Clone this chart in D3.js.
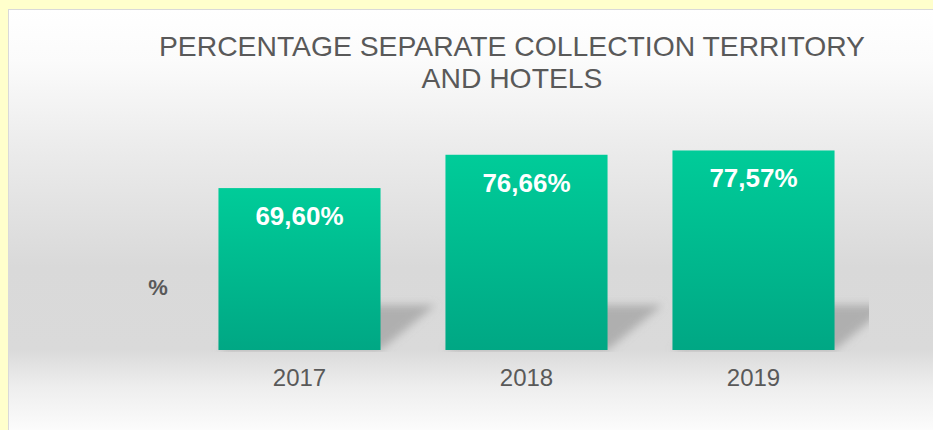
<!DOCTYPE html>
<meta charset="utf-8">
<html>
<head>
<title>Percentage separate collection</title>
<script src="https://d3js.org/d3.v7.min.js"></script>
<style>
  body { margin: 0; background: #ffffcc; }
  svg { display: block; }
  .title { font-family: "Liberation Sans", Arial, sans-serif; font-size: 28.3px; fill: #595959; text-anchor: middle; }
  .cat { font-family: "Liberation Sans", Arial, sans-serif; font-size: 24px; fill: #595959; text-anchor: middle; }
  .val { font-family: "Liberation Sans", Arial, sans-serif; font-size: 26px; font-weight: bold; fill: #fff; text-anchor: middle; }
  .unit { font-family: "Liberation Sans", Arial, sans-serif; font-size: 22px; font-weight: bold; fill: #595959; text-anchor: middle; }
</style>
</head>
<body>
<svg width="933" height="430"></svg>
<script>
  // data
  var years = ["2017", "2018", "2019"];
  var values = [69.60, 76.66, 77.57];
  var labels = ["69,60%", "76,66%", "77,57%"];
  var titleLines = ["PERCENTAGE SEPARATE COLLECTION TERRITORY", "AND HOTELS"];

  var svg = d3.select("svg"),
      width = +svg.attr("width"),
      height = +svg.attr("height");

  var defs = svg.append("defs");

  var bg = defs.append("linearGradient").attr("id", "bg")
      .attr("x1", 0).attr("y1", 0).attr("x2", 0).attr("y2", 1);
  [[0, "#ffffff"], [0.12, "#fbfbfb"], [0.33, "#ebebeb"], [0.6, "#d9d9d9"],
   [0.79, "#dadada"], [0.88, "#eeeeee"], [1, "#ffffff"]].forEach(function (s) {
    bg.append("stop").attr("offset", s[0]).attr("stop-color", s[1]);
  });

  var barGrad = defs.append("linearGradient").attr("id", "barGrad")
      .attr("x1", 0).attr("y1", 0).attr("x2", 0).attr("y2", 1);
  barGrad.append("stop").attr("offset", 0).attr("stop-color", "#00cc99");
  barGrad.append("stop").attr("offset", 1).attr("stop-color", "#00a784");

  defs.append("filter").attr("id", "blur")
      .attr("x", -0.3).attr("y", -0.3).attr("width", 1.6).attr("height", 1.6)
    .append("feGaussianBlur").attr("stdDeviation", 4);

  defs.append("clipPath").attr("id", "plotClip")
    .append("rect").attr("x", 150).attr("y", 100).attr("width", 719).attr("height", 252);

  // chart frame
  svg.append("rect")
      .attr("x", 8.5).attr("y", 9.5)
      .attr("width", width).attr("height", height)
      .attr("fill", "url(#bg)")
      .attr("stroke", "#d9d9d9");

  // title
  svg.append("text")
      .attr("class", "title")
      .selectAll("tspan")
      .data(titleLines)
      .enter().append("tspan")
        .attr("x", 512)
        .attr("y", function (d, i) { return 56 + i * 32; })
        .text(function (d) { return d; });

  // scales
  var x = d3.scaleBand()
      .domain(years)
      .range([186, 867])
      .paddingInner(0.286)
      .paddingOuter(0.143);

  var y = d3.scaleLinear()
      .domain([35.3, 80])
      .range([350, 139]);

  var data = years.map(function (d, i) { return { year: d, value: values[i], label: labels[i] }; });

  // shadows
  var skewX = 55, skewY = 45;
  svg.append("g")
      .attr("clip-path", "url(#plotClip)")
    .append("g")
      .attr("filter", "url(#blur)")
      .selectAll("polygon")
      .data(data)
      .enter().append("polygon")
        .attr("fill", "#8c8c8c")
        .attr("opacity", 0.55)
        .attr("points", function (d) {
          var x0 = x(d.year), x1 = x0 + x.bandwidth(), b = y(35.3);
          return [[x0, b], [x1, b], [x1 + skewX, b - skewY], [x0 + skewX, b - skewY]].join(" ");
        });

  // bars
  svg.append("g")
      .selectAll("rect")
      .data(data)
      .enter().append("rect")
        .attr("x", function (d) { return x(d.year); })
        .attr("y", function (d) { return y(d.value); })
        .attr("width", x.bandwidth())
        .attr("height", function (d) { return y(35.3) - y(d.value); })
        .attr("fill", "url(#barGrad)");

  // value labels
  svg.append("g")
      .selectAll("text")
      .data(data)
      .enter().append("text")
        .attr("class", "val")
        .attr("x", function (d) { return x(d.year) + x.bandwidth() / 2; })
        .attr("y", function (d) { return y(d.value) + 37; })
        .text(function (d) { return d.label; });

  // category axis labels
  svg.append("g")
      .selectAll("text")
      .data(years)
      .enter().append("text")
        .attr("class", "cat")
        .attr("x", function (d) { return x(d) + x.bandwidth() / 2; })
        .attr("y", 386)
        .text(function (d) { return d; });

  // axis title
  svg.append("text")
      .attr("class", "unit")
      .attr("x", 158)
      .attr("y", 295)
      .text("%");
</script>
</body>
</html>
